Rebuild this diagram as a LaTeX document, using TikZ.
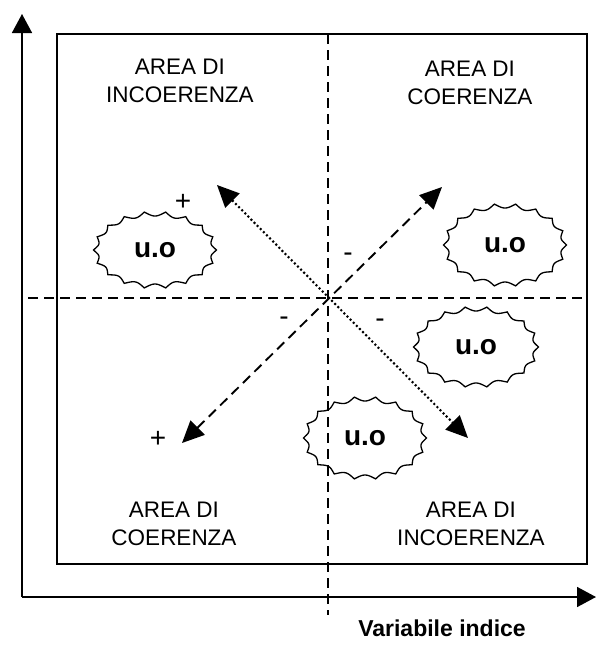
\documentclass[tikz,border=0pt]{standalone}
\usepackage{fontspec}
\setmainfont{Liberation Sans}
\usetikzlibrary{arrows.meta}

\tikzset{
  axisline/.style={line width=1.6pt, -{Triangle[length=19pt,width=20pt]}},
  quadline/.style={line width=1.7pt, dash pattern=on 10pt off 6pt},
  dashedarrow/.style={line width=1.9pt, dash pattern=on 10pt off 6pt,
    {Triangle[length=22pt,width=20pt]}-{Triangle[length=22pt,width=20pt]}},
  dottedarrow/.style={line width=2.1pt, dash pattern=on 2pt off 2.4pt,
    {Triangle[length=22pt,width=20pt]}-{Triangle[length=22pt,width=20pt]}},
  arealabel/.style={align=center, inner sep=0pt,
    font=\fontsize{22.5}{28}\selectfont},
  signlabel/.style={inner sep=0pt, font=\fontsize{28}{30}\selectfont},
  uolabel/.style={inner sep=0pt, font=\fontsize{28}{32}\selectfont\bfseries},
  cloudline/.style={line width=1.3pt, fill=white},
}

% scalloped "u.o" outline: centre (#2,#3), semi-axes #4,#5
\newcommand\uocloud[5]{%
  \draw[cloudline] plot[domain=0:360, samples=361]
    ({#2+(#4+1.5-4.5*abs(sin(9*\x)))*cos(\x)},
     {#3+(#5+1.5-4.5*abs(sin(9*\x)))*sin(\x)}) -- cycle;
  \node[uolabel] (#1) at (#2,#3) {u.o};
}

\begin{document}
\begin{tikzpicture}[x=1pt, y=-1pt]
  \useasboundingbox (0,0) rectangle (597,657);

  % axes
  \coordinate (origin) at (22,597);
  \coordinate (ytip) at (22,14);
  \coordinate (xtip) at (596,597);
  \draw[axisline] (origin) -- (ytip);
  \draw[axisline] (origin) -- (xtip);

  % frame
  \draw[line width=1.4pt] (57,34) rectangle (587,564);

  % quadrant dividers
  \coordinate (vtop) at (328,34);
  \coordinate (vbot) at (328,615);
  \coordinate (hleft) at (28,298);
  \coordinate (hright) at (587,298);
  \draw[quadline] (vtop) -- (vbot);
  \draw[quadline] (hleft) -- (hright);

  % clouds
  \uocloud{uoA}{155}{250}{60}{37}
  \uocloud{uoB}{505}{245}{60}{40}
  \uocloud{uoC}{476}{347}{61}{39}
  \uocloud{uoD}{365}{438}{60}{40}
  \draw[quadline] (328,401) -- (328,476);

  % diagonal arrows
  \coordinate (dA) at (182,443);
  \coordinate (dB) at (442,187);
  \coordinate (pA) at (217,185);
  \coordinate (pB) at (468,438);
  \draw[dashedarrow] (dA) -- (dB);
  \draw[dottedarrow] (pA) -- (pB);

  % area captions
  \node[arealabel] (tl) at (180,80.5) {AREA DI\\INCOERENZA};
  \node[arealabel] (tr) at (470,82.5) {AREA DI\\COERENZA};
  \node[arealabel] (bl) at (174,523.5) {AREA DI\\COERENZA};
  \node[arealabel] (br) at (471,524) {AREA DI\\INCOERENZA};

  % signs
  \node[signlabel] (s1) at (183,202) {+};
  \node[signlabel] (s2) at (348,257) {-};
  \node[signlabel] (s3) at (380,323) {-};
  \node[signlabel] (s4) at (284,321) {-};
  \node[signlabel] (s5) at (158,439) {+};

  % axis title
  \node[anchor=base, inner sep=0pt, font=\fontsize{23}{27}\selectfont\bfseries]
    (xlabel) at (442,636) {Variabile indice};
\end{tikzpicture}
\end{document}
